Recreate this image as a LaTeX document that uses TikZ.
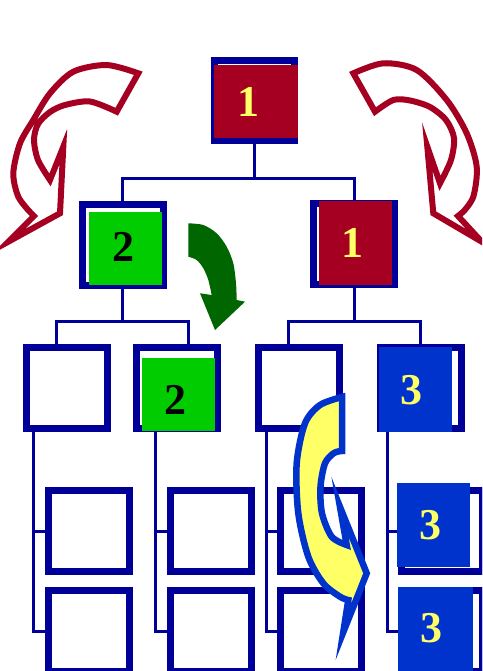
\documentclass[tikz,border=0pt]{standalone}
\usepackage{fontspec}
\setmainfont{Liberation Serif}
\definecolor{navy}{HTML}{000099}
\definecolor{cred}{HTML}{A50021}
\definecolor{cgreen}{HTML}{00CC00}
\definecolor{dgreen}{HTML}{006600}
\definecolor{cblue}{HTML}{0033CC}
\definecolor{cyel}{HTML}{FFFF66}
\begin{document}
\begin{tikzpicture}[x=1pt,y=-1pt,
  framebox/.style={draw=navy,line width=7pt,fill=white,minimum width=81pt,minimum height=81pt,inner sep=0pt,outer sep=0pt},
  fillbox/.style={inner sep=0pt,outer sep=0pt},
  conn/.style={draw=navy,line width=3pt},
  digit/.style={inner sep=0pt,font=\fontsize{44}{44}\selectfont\bfseries},
  redarrow/.style={draw=cred,line width=6pt,fill=white,line join=miter},
  yelarrow/.style={draw=cblue,line width=6.5pt,fill=cyel,line join=miter}]
\useasboundingbox (0,0) rectangle (482,671);
\clip (0,0) rectangle (482,671);
% frames
\node[framebox,minimum width=80pt,minimum height=80pt] (T) at (254.5,100.5) {};
\node[framebox] (L2a) at (122.5,245) {};
\node[framebox] (L2b) at (354,244) {};
\node[framebox] (L3A) at (67,388) {};
\node[framebox] (L3B) at (177,388) {};
\node[framebox] (L3C) at (299,388) {};
\node[framebox] (L3D) at (420.5,388) {};
\node[framebox] (L4A1) at (89,531) {};
\node[framebox] (L4B1) at (211,531) {};
\node[framebox] (L4C1) at (321,531) {};
\node[framebox] (L4D1) at (442,531) {};
\node[framebox] (L4A2) at (89,631) {};
\node[framebox] (L4B2) at (211,631) {};
\node[framebox] (L4C2) at (321,631) {};
\node[framebox] (L4D2) at (442,631) {};
% connectors
\coordinate (j1) at (0,178);
\coordinate (j2) at (0,321);
\draw[conn] (T.south) -- (T.south |- j1);
\draw[conn] (L2a.north) -- (L2a.north |- j1) -- (L2b.north |- j1) -- (L2b.north);
\draw[conn] (L2a.south) -- (L2a.south |- j2);
\draw[conn] ([xshift=-11pt]L3A.north) -- ([xshift=-11pt]L3A.north |- j2) -- ([xshift=11pt]L3B.north |- j2) -- ([xshift=11pt]L3B.north);
\draw[conn] (L2b.south) -- (L2b.south |- j2);
\draw[conn] ([xshift=-11pt]L3C.north) -- ([xshift=-11pt]L3C.north |- j2) -- (L3D.north |- j2) -- (L3D.north);
\draw[conn] ([xshift=-34pt]L3A.south) |- (L4A2.west);
\draw[conn] ([xshift=-34pt]L3A.south |- L4A1.west) -- (L4A1.west);
\draw[conn] ([xshift=-22pt]L3B.south) |- (L4B2.west);
\draw[conn] ([xshift=-22pt]L3B.south |- L4B1.west) -- (L4B1.west);
\draw[conn] ([xshift=-33pt]L3C.south) |- (L4C2.west);
\draw[conn] ([xshift=-33pt]L3C.south |- L4C1.west) -- (L4C1.west);
\draw[conn] ([xshift=-33.5pt]L3D.south) |- (L4D2.west);
\draw[conn] ([xshift=-33.5pt]L3D.south |- L4D1.west) -- (L4D1.west);
% redraw frames on top of connector ends
\foreach \n in {T,L2a,L2b,L3A,L3B,L3C,L3D,L4A1,L4B1,L4C1,L4D1,L4A2,L4B2,L4C2,L4D2}
  \draw[navy,line width=7pt] (\n.north west) rectangle (\n.south east);
% coloured fills
\node[fillbox,fill=cred,minimum width=84pt,minimum height=73pt] (fT) at (256,101.5) {};
\node[fillbox,fill=cgreen,minimum width=73pt,minimum height=73pt] (f2a) at (125.5,248.5) {};
\node[fillbox,fill=cred,minimum width=73pt,minimum height=84pt] (f2b) at (355.5,243) {};
\node[fillbox,fill=cgreen,minimum width=73pt,minimum height=73pt] (f3B) at (178.3,394.2) {};
\node[fillbox,fill=cblue,minimum width=73pt,minimum height=85pt] (f3D) at (415.5,389.5) {};
\node[fillbox,fill=cblue,minimum width=73pt,minimum height=84pt] (f4D1) at (433.5,525) {};
\node[fillbox,fill=cblue,minimum width=75pt,minimum height=88pt] (f4D2) at (435.5,631) {};
% digits
\node[digit,text=cyel] (tT) at (248,102) {1};
\node[digit,text=black] (t2a) at (123.3,246.7) {2};
\node[digit,text=cyel] (t2b) at (352.7,243.3) {1};
\node[digit,text=black] (t3B) at (175,400) {2};
\node[digit,text=cyel] (t3D) at (411.7,390) {3};
\node[digit,text=cyel] (t4D1) at (430,525) {3};
\node[digit,text=cyel] (t4D2) at (431.7,628.3) {3};
% red curved arrows
\draw[redarrow] plot[smooth] coordinates {(138.3,73.3) (106.7,65) (73.3,71.7) (50,93.3) (33.3,120) (20,143.3) (13.3,173.3) (18.3,196.7) (30,212)} -- (34,216) -- (8.3,241.7) -- (60,213.3) -- (63.3,146.7) -- (50,180) -- plot[smooth] coordinates {(50,180) (38,160) (34,140) (38,124) (50,112) (65,105) (90,101.5) (116.7,111.7)} -- cycle;
\draw[redarrow] plot[smooth] coordinates {(353.3,73.3) (383.3,63.3) (416.7,70) (446.7,100) (466.7,133.3) (476.7,166.7) (473.3,196.7) (463,212)} -- (458,216) -- (481.7,241.7) -- (433.3,213.3) -- (427.3,146.7) -- (440,183.3) -- plot[smooth] coordinates {(440,183.3) (451,160) (454,138) (446,120) (430,107) (410,100.5) (393.3,100) (375,111.7)} -- cycle;
% green arrow
\fill[dgreen] plot[smooth] coordinates {(188.3,223.3) (203.3,225) (216.7,233.3) (226.7,246.7) (233.3,263.3) (236,283.3) (236.7,300)} -- (245,301.7) -- (215,330) -- (200,293.3) -- (211.7,295) -- plot[smooth] coordinates {(211.7,295) (208.3,280) (203.3,268.3) (196.7,260) (188.3,256.7)} -- cycle;
% yellow arrow
\draw[yelarrow] plot[smooth] coordinates {(342,397) (320,405) (305,423.3) (296.7,463.3) (298.3,513.3) (308.3,556.7) (323.3,583.3) (340,596.7) (348.3,600)} -- (343.3,632) -- (366.7,573.3) -- (340,507) -- (346.7,545) -- plot[smooth] coordinates {(346.7,545) (331.7,536.7) (322,513.3) (320.5,486.7) (325,463.3) (334,453) (342,451)} -- cycle;
\end{tikzpicture}
\end{document}
